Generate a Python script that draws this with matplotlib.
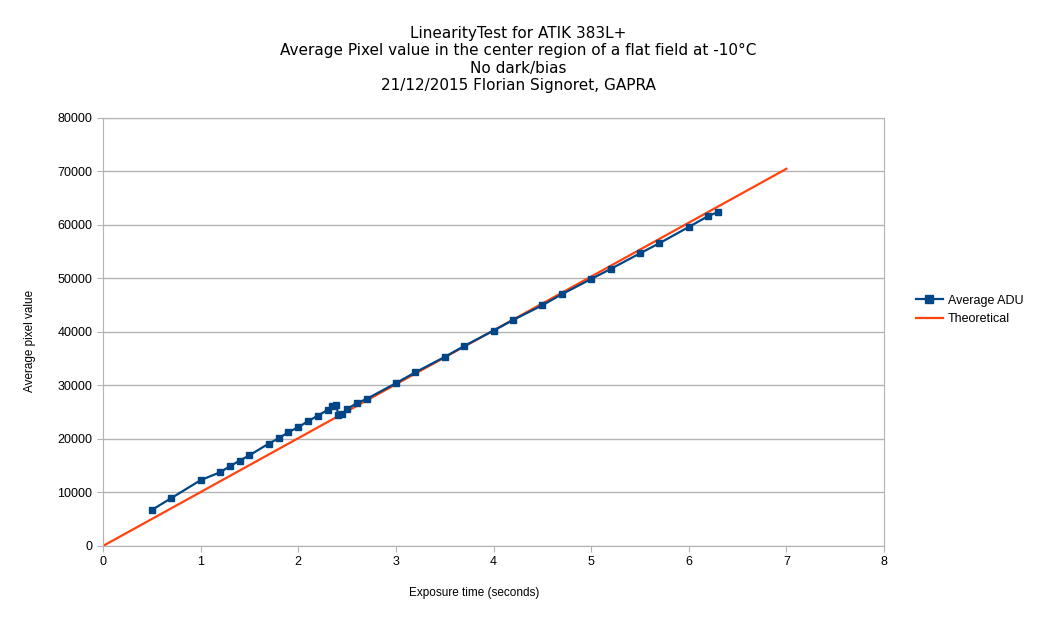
import numpy as np
import matplotlib.pyplot as plt

# measured points (exposure in s, mean ADU)
exposure = [0.5, 0.7, 1.0, 1.2, 1.3, 1.4, 1.5, 1.7, 1.8, 1.9, 2.0, 2.1, 2.2,
            2.3, 2.35, 2.39, 2.41, 2.45, 2.5, 2.6, 2.7, 3.0, 3.2, 3.5, 3.7,
            4.0, 4.2, 4.5, 4.7, 5.0, 5.2, 5.5, 5.7, 6.0, 6.2, 6.3]
avg_adu = [6730, 8950, 12300, 13780, 14900, 15950, 16950, 19150, 20130, 21270,
           22200, 23320, 24350, 25420, 26080, 26420, 24400, 24670, 25580, 26700,
           27480, 30420, 32470, 35330, 37380, 40250, 42240, 44990, 47050, 49900,
           51780, 54700, 56600, 59630, 61680, 62430]

theo_x = [0, 7]
theo_y = [0, 70500]

blue = '#004586'
orange = '#ff420e'

fig = plt.figure(figsize=(10.37, 6.2), dpi=100)
ax = fig.add_axes([0.0993, 0.1194, 0.7532, 0.6903])

ax.plot(exposure, avg_adu, color=blue, lw=1.6, marker='s', ms=4.5,
        label='Average ADU', zorder=3)
ax.plot(theo_x, theo_y, color=orange, lw=1.6, label='Theoretical', zorder=2)

ax.set_xlim(0, 8)
ax.set_ylim(0, 80000)
ax.set_xticks(range(0, 9))
ax.set_yticks(range(0, 80001, 10000))
ax.yaxis.grid(True, color='#b3b3b3', lw=1)
ax.set_axisbelow(True)
for s in ax.spines.values():
    s.set_color('#b3b3b3')
ax.tick_params(colors='#b3b3b3', labelcolor='black', labelsize=9, length=4)
for lbl in ax.get_xticklabels() + ax.get_yticklabels():
    lbl.set_family('Liberation Sans')

ax.set_xlabel('Exposure time (seconds)', fontsize=8.5, family='Liberation Sans')
ax.xaxis.set_label_coords(0.475, -0.095)
ax.set_ylabel('Average pixel value', fontsize=8.5, family='Liberation Sans')
ax.yaxis.set_label_coords(-0.086, 0.48)

fig.text(0.5, 0.958,
         'LinearityTest for ATIK 383L+\n'
         'Average Pixel value in the center region of a flat field at -10°C\n'
         'No dark/bias\n'
         '21/12/2015 Florian Signoret, GAPRA',
         ha='center', va='top', fontsize=11, family='DejaVu Sans', linespacing=1.2)

fig.legend(loc='center left', bbox_to_anchor=(0.872, 0.5), frameon=False,
           prop={'family': 'Liberation Sans', 'size': 9}, markerscale=1.3,
           handlelength=2.2, handletextpad=0.4, labelspacing=0.55)

fig.savefig('out.png', dpi=100)
